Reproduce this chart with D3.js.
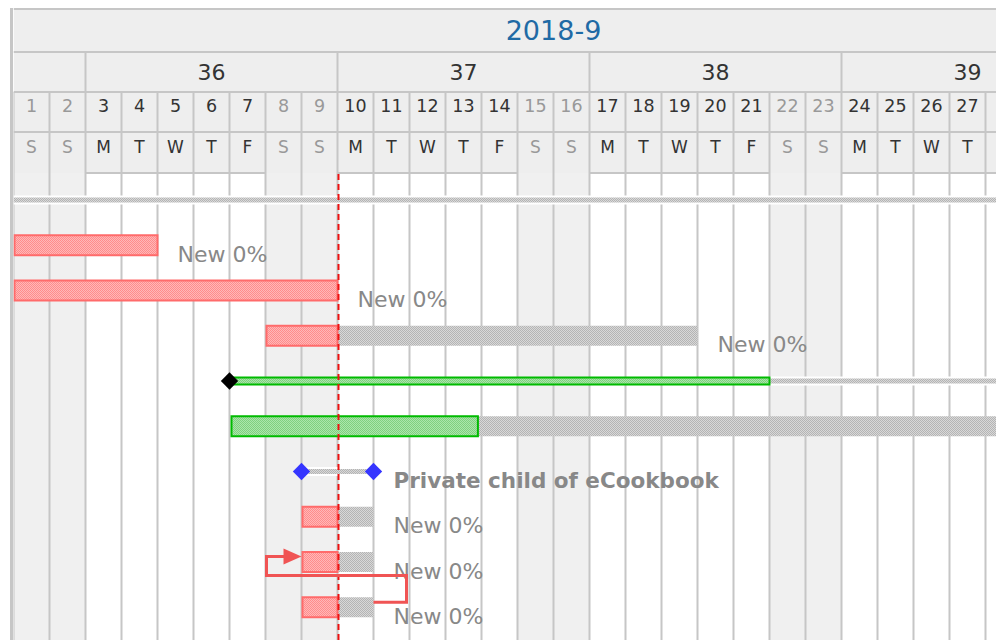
<!DOCTYPE html>
<html>
<head>
<meta charset="utf-8">
<script src="https://cdn.jsdelivr.net/npm/d3@7"></script>
<style>
  html, body { margin: 0; padding: 0; background: #fff; }
  svg { display: block; font-family: "DejaVu Sans", Verdana, sans-serif; }
</style>
</head>
<body>
<svg id="gantt" width="996" height="640"></svg>
<script>
// header values
const monthLabel = '2018-9';
const monthStartDay = 1;
const monthEndDay = 31;
const weekLabels = ['35', '36', '37', '38', '39'];
const weekStartDays = [-4, 3, 10, 17, 24];
const dayNumbers = [1, 2, 3, 4, 5, 6, 7, 8, 9, 10, 11, 12, 13, 14, 15, 16, 17, 18, 19, 20, 21, 22, 23, 24, 25, 26, 27];
const dayLetters = ['S', 'S', 'M', 'T', 'W', 'T', 'F', 'S', 'S', 'M', 'T', 'W', 'T', 'F', 'S', 'S', 'M', 'T', 'W', 'T', 'F', 'S', 'S', 'M', 'T', 'W', 'T'];

// task values (row index, start day, end day)
const lateBars = [
    { row: 1, start: 1, end: 5 },
    { row: 2, start: 1, end: 10 },
    { row: 3, start: 8, end: 10 },
    { row: 7, start: 9, end: 10 },
    { row: 8, start: 9, end: 10 },
    { row: 9, start: 9, end: 10 }
];
const progressBars = [
    { row: 5, start: 7, end: 13.9 }
];
const remainingBars = [
    { row: 3, start: 10, end: 20 },
    { row: 5, start: 13.9, end: 31 },
    { row: 7, start: 10, end: 11 },
    { row: 8, start: 10, end: 11 },
    { row: 9, start: 10, end: 11 }
];
const summaryProgress = [
    { row: 4, start: 7, end: 22 }
];
const summaryRemaining = [
    { row: 0, start: 1, end: 31 },
    { row: 4, start: 22, end: 31 },
    { row: 6, start: 9, end: 11 }
];
const milestones = [
    { row: 4, day: 7, kind: 'project' },
    { row: 6, day: 9, kind: 'version' },
    { row: 6, day: 11, kind: 'version' }
];
const taskLabels = [
    { row: 1, day: 5, text: 'New 0%', bold: false },
    { row: 2, day: 10, text: 'New 0%', bold: false },
    { row: 3, day: 20, text: 'New 0%', bold: false },
    { row: 6, day: 11, text: 'Private child of eCookbook', bold: true },
    { row: 7, day: 11, text: 'New 0%', bold: false },
    { row: 8, day: 11, text: 'New 0%', bold: false },
    { row: 9, day: 11, text: 'New 0%', bold: false }
];
const links = [
    { fromRow: 9, fromDay: 11, toRow: 8, toDay: 9 }
];
const todayDay = 10;
const rowIndexes = [0, 9];

// layout
const W = 996, H = 640;
const left = 13.5, dayWidth = 36;
const borderColor = '#c6c6c6';

const svg = d3.select('#gantt');

const x = d3.scaleLinear()
    .domain([1, 29])
    .range([left, left + 28 * dayWidth]);

const y = d3.scaleLinear()
    .domain(rowIndexes)
    .range([200, 200 + 9 * 45.25]);

// patterns
const defs = svg.append('defs');

function addChecker(id, base, dot) {
    const p = defs.append('pattern')
        .attr('id', id)
        .attr('width', 2)
        .attr('height', 2)
        .attr('patternUnits', 'userSpaceOnUse');
    p.append('rect').attr('width', 2).attr('height', 2).attr('fill', base);
    p.append('rect').attr('width', 1).attr('height', 1).attr('fill', dot);
    p.append('rect').attr('x', 1).attr('y', 1).attr('width', 1).attr('height', 1).attr('fill', dot);
}
addChecker('hatch-gray', '#d8d8d8', '#b4b4b4');
addChecker('hatch-red', '#ffb8b8', '#ff8c8c');
addChecker('hatch-green', '#abe6ab', '#7fd07f');

defs.append('clipPath')
    .attr('id', 'chart-clip')
    .append('rect')
    .attr('x', left)
    .attr('y', 0)
    .attr('width', W - left)
    .attr('height', H);

const g = svg.append('g').attr('clip-path', 'url(#chart-clip)');

const days = dayNumbers.map((d, i) => ({ day: d, letter: dayLetters[i], weekend: dayLetters[i] === 'S' }));

// header background
g.append('rect')
    .attr('x', left)
    .attr('y', 10)
    .attr('width', W - left)
    .attr('height', 163)
    .attr('fill', '#eeeeee');

// body columns
g.selectAll('.day-col')
    .data(days)
    .enter()
    .append('rect')
    .attr('class', 'day-col')
    .attr('x', d => x(d.day))
    .attr('y', 173)
    .attr('width', dayWidth)
    .attr('height', H - 173)
    .attr('fill', d => d.weekend ? '#f0f0f0' : '#ffffff');

// horizontal header borders
[9, 52, 92, 132].forEach(yy => {
    g.append('line')
        .attr('x1', left)
        .attr('x2', W)
        .attr('y1', yy)
        .attr('y2', yy)
        .attr('stroke', borderColor)
        .attr('stroke-width', 2);
});

// bottom border only under weekdays
g.selectAll('.day-bottom')
    .data(days.filter(d => !d.weekend))
    .enter()
    .append('line')
    .attr('class', 'day-bottom')
    .attr('x1', d => x(d.day))
    .attr('x2', d => x(d.day) + dayWidth)
    .attr('y1', 173)
    .attr('y2', 173)
    .attr('stroke', borderColor)
    .attr('stroke-width', 2);

g.append('line')
    .attr('x1', x(28))
    .attr('x2', W)
    .attr('y1', 173)
    .attr('y2', 173)
    .attr('stroke', borderColor)
    .attr('stroke-width', 2);

// day grid lines (header day rows + body)
g.selectAll('.day-line')
    .data(days.map(d => d.day).concat([28]))
    .enter()
    .append('line')
    .attr('class', 'day-line')
    .attr('x1', d => x(d))
    .attr('x2', d => x(d))
    .attr('y1', 92)
    .attr('y2', H)
    .attr('stroke', borderColor)
    .attr('stroke-width', 2);

// week borders
g.selectAll('.week-line')
    .data(weekStartDays)
    .enter()
    .append('line')
    .attr('class', 'week-line')
    .attr('x1', d => x(d))
    .attr('x2', d => x(d))
    .attr('y1', 52)
    .attr('y2', 92)
    .attr('stroke', borderColor)
    .attr('stroke-width', 2);

// month label
g.append('text')
    .attr('x', (x(monthStartDay) + x(monthEndDay)) / 2)
    .attr('y', 40)
    .attr('text-anchor', 'middle')
    .attr('fill', '#1f6aa5')
    .style('font-size', '27px')
    .text(monthLabel);

// week labels (only those whose centre is in view)
const weeks = weekLabels
    .map((w, i) => ({ label: w, center: weekStartDays[i] + 3.5 }))
    .filter(w => x(w.center) > left);

g.selectAll('.week-label')
    .data(weeks)
    .enter()
    .append('text')
    .attr('class', 'week-label')
    .attr('x', d => x(d.center))
    .attr('y', 80)
    .attr('text-anchor', 'middle')
    .attr('fill', '#333')
    .style('font-size', '22px')
    .text(d => d.label);

// day numbers and letters
g.selectAll('.day-num')
    .data(days)
    .enter()
    .append('text')
    .attr('class', 'day-num')
    .attr('x', d => x(d.day) + dayWidth / 2)
    .attr('y', 112)
    .attr('text-anchor', 'middle')
    .attr('fill', d => d.weekend ? '#999' : '#333')
    .style('font-size', '17.5px')
    .text(d => d.day);

g.selectAll('.day-letter')
    .data(days)
    .enter()
    .append('text')
    .attr('class', 'day-letter')
    .attr('x', d => x(d.day) + dayWidth / 2)
    .attr('y', 153)
    .attr('text-anchor', 'middle')
    .attr('fill', d => d.weekend ? '#999' : '#333')
    .style('font-size', '17px')
    .text(d => d.letter);

// thin summary lines with white band
const body = g.append('g');

body.selectAll('.summary-band')
    .data(summaryRemaining)
    .enter()
    .append('rect')
    .attr('x', d => x(d.start))
    .attr('y', d => y(d.row) - 4.5)
    .attr('width', d => x(d.end) - x(d.start))
    .attr('height', 9)
    .attr('fill', '#fff');

body.selectAll('.summary-rest')
    .data(summaryRemaining)
    .enter()
    .append('rect')
    .attr('x', d => x(d.start))
    .attr('y', d => y(d.row) - 2.5)
    .attr('width', d => x(d.end) - x(d.start))
    .attr('height', 5)
    .attr('fill', 'url(#hatch-gray)');

body.selectAll('.summary-done')
    .data(summaryProgress)
    .enter()
    .append('rect')
    .attr('x', d => x(d.start) + 1)
    .attr('y', d => y(d.row) - 3.5)
    .attr('width', d => x(d.end) - x(d.start) - 1)
    .attr('height', 7)
    .attr('fill', 'url(#hatch-green)')
    .attr('stroke', '#00bb00')
    .attr('stroke-width', 2);

// remaining (gray) bars
body.selectAll('.rest-bar')
    .data(remainingBars)
    .enter()
    .append('rect')
    .attr('x', d => x(d.start))
    .attr('y', d => y(d.row) - 10)
    .attr('width', d => x(d.end) - x(d.start))
    .attr('height', 20)
    .attr('fill', 'url(#hatch-gray)');

// late (red) bars
body.selectAll('.late-bar')
    .data(lateBars)
    .enter()
    .append('rect')
    .attr('x', d => x(d.start) + 1)
    .attr('y', d => y(d.row) - 10)
    .attr('width', d => x(d.end) - x(d.start) - 1)
    .attr('height', 20)
    .attr('fill', 'url(#hatch-red)')
    .attr('stroke', '#ff6b6b')
    .attr('stroke-width', 2);

// progress (green) bars
body.selectAll('.done-bar')
    .data(progressBars)
    .enter()
    .append('rect')
    .attr('x', d => x(d.start) + 2)
    .attr('y', d => y(d.row) - 10)
    .attr('width', d => x(d.end) - x(d.start) - 2)
    .attr('height', 20)
    .attr('fill', 'url(#hatch-green)')
    .attr('stroke', '#00bb00')
    .attr('stroke-width', 2);

// milestones
const diamond = d3.symbol().type(d3.symbolSquare).size(150);
body.selectAll('.milestone')
    .data(milestones)
    .enter()
    .append('path')
    .attr('d', diamond)
    .attr('transform', d => `translate(${x(d.day)}, ${y(d.row)}) rotate(45)`)
    .attr('fill', d => d.kind === 'project' ? '#000' : '#3535ff');

// labels
body.selectAll('.task-label')
    .data(taskLabels)
    .enter()
    .append('text')
    .attr('x', d => x(d.day) + 20)
    .attr('y', d => y(d.row) + 16.5)
    .attr('fill', '#888')
    .style('font-size', d => d.bold ? '21.5px' : '22px')
    .style('font-weight', d => d.bold ? 'bold' : 'normal')
    .text(d => d.text);

// today line
body.append('line')
    .attr('x1', x(todayDay) + 1)
    .attr('x2', x(todayDay) + 1)
    .attr('y1', 174)
    .attr('y2', H)
    .attr('stroke', '#ee1111')
    .attr('stroke-width', 2)
    .attr('stroke-dasharray', '6,4');

// dependency arrows
links.forEach(l => {
    const x0 = x(l.fromDay), y0 = y(l.fromRow) - 5;
    const x1 = x(l.toDay), y1 = y(l.toRow) - 5.5;
    const midY = y(l.toRow) + 13.5;
    const path = d3.path();
    path.moveTo(x0, y0);
    path.lineTo(x0 + 33, y0);
    path.lineTo(x0 + 33, midY);
    path.lineTo(x1 - 35, midY);
    path.lineTo(x1 - 35, y1);
    path.lineTo(x1 - 16, y1);
    body.append('path')
        .attr('d', path.toString())
        .attr('fill', 'none')
        .attr('stroke', '#f05454')
        .attr('stroke-width', 3);
    body.append('path')
        .attr('d', `M${x1},${y1} L${x1 - 18},${y1 - 8} L${x1 - 18},${y1 + 8} Z`)
        .attr('fill', '#f05454');
});

// left border
svg.append('line')
    .attr('x1', 11.5)
    .attr('x2', 11.5)
    .attr('y1', 8)
    .attr('y2', H)
    .attr('stroke', borderColor)
    .attr('stroke-width', 3);
</script>
</body>
</html>
